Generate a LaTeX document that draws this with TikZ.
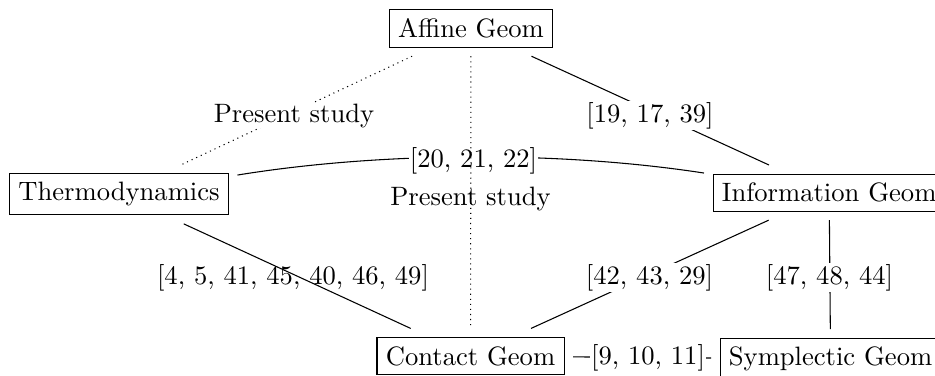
\documentclass[tikz,border=0pt]{standalone}
\begin{document}
\begin{tikzpicture}[x=0.376pt,y=-0.376pt,
  geobox/.style={draw, outer sep=3.4pt},
  flab/.style={fill=white, inner sep=0.3pt},
  plab/.style={inner sep=0.3pt},
  dotline/.style={dash pattern=on 0.4pt off 1.5pt}]
\useasboundingbox (0,0) rectangle (935,375);
% boxes
\node[geobox] (A) at (471,28.5) {Affine Geom};
\node[geobox] (T) at (119,194) {Thermodynamics};
\node[geobox, anchor=north west] (I) at (704,165) {Information Geom};
\node[geobox] (C) at (470.5,356) {Contact Geom};
\node[geobox, anchor=north west] (S) at (711,329) {Symplectic Geom};
% connectors broken by their labels
\draw[dotline] (A) -- (T);
\draw (A) -- (I);
\draw (T) to[bend left=9, looseness=0.8] (I);
\draw (I) -- (C);
\draw (I) -- (S);
\draw (C) -- (S);
% labels with white ground
\node[flab] (l1) at (294,115.5) {Present study};
\node[flab] (l2) at (650,115.5) {[19, 17, 39]};
\node[flab] (l3) at (473.5,160.5) {[20, 21, 22]};
\node[flab] (l6) at (649.5,277.5) {[42, 43, 29]};
\node[flab] (l7) at (829.5,277.5) {[47, 48, 44]};
\node[flab] (l8) at (648,358) {[9, 10, 11]};
% connectors drawn over text
\draw[dotline] (A) -- (C);
\draw (T) -- (C);
\node[plab] (l4) at (470.5,198.5) {Present study};
\node[plab] (l5) at (293,277.5) {[4, 5, 41, 45, 40, 46, 49]};
\end{tikzpicture}
\end{document}
